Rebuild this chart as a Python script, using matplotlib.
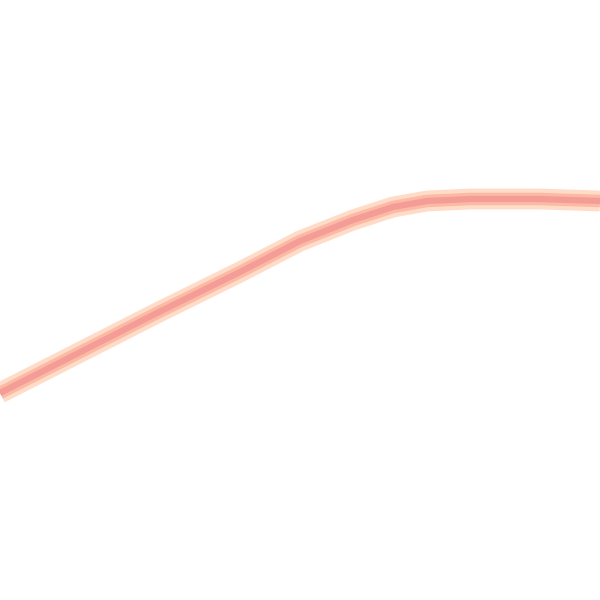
import matplotlib
matplotlib.use("Agg")
import matplotlib.pyplot as plt

x_vals = [0, 157, 240, 300, 353, 393, 427, 470, 540, 600]
y_vals = [393, 313, 272, 241, 220, 207, 201, 199, 199, 201]

fig = plt.figure(figsize=(6, 6), dpi=100)
ax = fig.add_axes([0, 0, 1, 1])

# soft halo and then the core of the line
ax.plot(x_vals, y_vals, color="#ffdcc8", linewidth=15, solid_capstyle="butt",
        solid_joinstyle="round")
ax.plot(x_vals, y_vals, color="#fbb9a6", linewidth=9, solid_capstyle="butt",
        solid_joinstyle="round")
ax.plot(x_vals, y_vals, color="#f49d96", linewidth=4.5, solid_capstyle="butt",
        solid_joinstyle="round")

ax.set_xlim(0, 600)
ax.set_ylim(600, 0)
ax.axis("off")

fig.savefig("out.png", dpi=100)
